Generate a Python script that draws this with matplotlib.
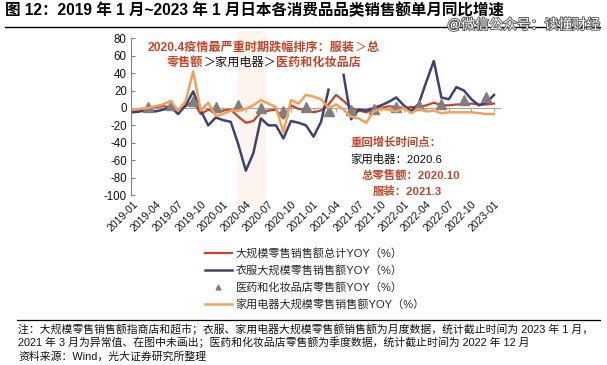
import numpy as np
import matplotlib
matplotlib.use('Agg')
import matplotlib.pyplot as plt
from matplotlib.lines import Line2D
import matplotlib.patheffects as pe

plt.rcParams['font.family'] = ['Liberation Sans', 'Noto Sans CJK SC']
plt.rcParams['axes.unicode_minus'] = False

# ---- data (monthly, 2019-01 .. 2023-01) ----
months = [f'{y}-{m:02d}' for y in range(2019, 2024) for m in range(1, 13)][:49]
total_yoy = [-3, -2, 0, 1, 2, 1, -2, 2, 8, -7, -2, -5,
             -3, -2, -10, -17, -15, -5, -3, -2, -12, 3, -1, -2,
             -5, -3, 4, 15, 8, 0, -3, -5, -2, 0, 2, 1,
             0, 1, 1, 3, 6, 3, 3, 4, 4, 5, 4, 4, 5]
apparel_yoy = [-5, -4, -2, -4, -2, 1, -7, 3, 19, -3, -20, -11,
               -14, -16, -42, -72, -52, -12, -20, -20, -35, -15, -17, -20,
               -33, -16, 21, np.nan, 38, -13, -2, -3, 0, 3, 7, 12,
               3, -4, 5, 30, 54, 12, 10, 24, 20, 10, 3, 6, 15]
appliance_yoy = [-2, -1, 0, 2, 4, 8, -3, 8, 42, -3, 6, -9,
                 -7, -3, -3, -1, 3, 9, 5, 1, -28, 9, 5, 15,
                 13, 10, 0, 4, -2, -10, -12, -17, -4, -1, -2, -4,
                 0, -6, -1, -4, -3, -6, -5, -5, -5, -5, -6, -7, -7]
# quarterly (2019Q1 .. 2022Q4), plotted at quarter-end months
drug_idx = list(range(2, 48, 3))
drug_yoy = [1, 3, 8, 1, 3, 0, -3, 1, -3, -2, -1, 1, 3, 4, 9, 12]

tick_idx = list(range(0, 49, 3))
tick_labels = [months[i] for i in tick_idx]

RED = '#C0462B'
NAVY = '#3F4170'
ORANGE = '#F2A05A'
GRAY = '#7F7F7F'

W, H = 607, 365


def fx(x):
    return x / W


def fy(y):
    return 1 - y / H


fig = plt.figure(figsize=(6.07, 3.65), dpi=100)
ax = fig.add_axes([fx(131), fy(195), fx(500) - fx(131), fy(38.3) - fy(195)])

x = np.arange(len(months))
ax.axvspan(13.8, 17.7, ymin=-0.064, ymax=1.047, color='#FDF4EE', lw=0,
           clip_on=False, zorder=0)
ax.plot(x, total_yoy, color=RED, lw=1.6, zorder=3)
ax.plot(x, apparel_yoy, color=NAVY, lw=1.8, zorder=3)
ax.plot(drug_idx, drug_yoy, ls='none', marker='^', ms=6.5, color=GRAY, zorder=4)
ax.plot(x, appliance_yoy, color=ORANGE, lw=1.8, zorder=5)

ax.set_xlim(-0.27, 48.8)
ax.set_ylim(-100, 80)
ax.set_yticks(range(-100, 81, 20))
ax.tick_params(axis='y', direction='in', length=3, width=0.8, color='#808080',
               labelsize=8.3, pad=3, labelcolor='#111111')
for sp in ('top', 'right'):
    ax.spines[sp].set_visible(False)
ax.spines['left'].set_color('#808080')
ax.spines['left'].set_linewidth(0.8)
ax.spines['bottom'].set_position(('data', 0))
ax.spines['bottom'].set_color('#A6A6A6')
ax.spines['bottom'].set_linewidth(0.8)
ax.set_xticks(tick_idx)
ax.tick_params(axis='x', direction='out', length=3, width=0.8, color='#A6A6A6',
               labelbottom=False)

sec = ax.secondary_xaxis('bottom')
sec.set_xticks(tick_idx)
sec.set_xticklabels(tick_labels, rotation=45, ha='right', rotation_mode='anchor',
                    fontsize=7.6, color='#111111')
sec.tick_params(length=0, pad=3)
sec.spines['bottom'].set_visible(False)


def rich(x0, y0, parts, size):
    prev = None
    for s, color, bold in parts:
        kw = dict(color=color, fontsize=size, fontweight='bold' if bold else 'normal',
                  ha='left', va='center')
        if prev is None:
            prev = fig.text(fx(x0), fy(y0), s, **kw)
        else:
            prev = ax.annotate(s, xy=(1, 0.5), xycoords=prev, annotation_clip=False, **kw)


rich(148, 47.5, [('2020.4疫情最严重时期跌幅排序：服装', RED, True),
                 ('＞', RED, False), ('总', RED, True)], 8.7)
rich(167, 63, [('零售额', RED, True), ('＞家用电器＞', '#111111', False),
               ('医药和化妆品店', RED, True)], 8.7)

rich(350, 142, [('重回增长时间点：', RED, True)], 8.2)
rich(350, 159, [('家用电器：2020.6', '#111111', False)], 8.2)
rich(362, 175, [('总零售额：2020.10', RED, True)], 8.2)
rich(373, 191, [('服装：2021.3', RED, True)], 8.2)

# title, rule and watermark
fig.text(fx(5), fy(11), '图 12：2019 年 1 月~2023 年 1 月日本各消费品品类销售额单月同比增速',
         fontsize=11.2, fontweight='bold', ha='left', va='center', color='black')
fig.add_artist(Line2D([fx(5), fx(600)], [fy(27), fy(27)], color='black', lw=1))
fig.text(fx(600), fy(25), '@微信公众号：读懂财经', fontsize=10, ha='right', va='center',
         color='white', path_effects=[pe.withStroke(linewidth=1.3, foreground='#555555')])

# legend
handles = [Line2D([], [], color=RED, lw=1.6),
           Line2D([], [], color=NAVY, lw=1.8),
           Line2D([], [], ls='none', marker='^', ms=3.5, color=GRAY),
           Line2D([], [], color=ORANGE, lw=1.8)]
labels = ['大规模零售销售额总计YOY（%）', '衣服大规模零售销售额YOY（%）',
          '医药和化妆品店零售额YOY（%）', '家用电器大规模零售销售额YOY（%）']
leg = fig.legend(handles, labels, loc='upper left', bbox_to_anchor=(fx(205), fy(248)),
                 frameon=False, fontsize=8, handlelength=2.4, handletextpad=0.35,
                 labelspacing=0.55, borderpad=0, borderaxespad=0)
for t in leg.get_texts():
    t.set_color('#262626')

# notes
fig.add_artist(Line2D([fx(17), fx(600)], [fy(320), fy(320)], color='black', lw=0.9))
notes = ['注：大规模零售销售额指商店和超市；衣服、家用电器大规模零售额销售额为月度数据，统计截止时间为 2023 年 1 月，',
         '2021 年 3 月为异常值、在图中未画出；医药和化妆品店零售额为季度数据，统计截止时间为 2022 年 12 月',
         '资料来源：Wind，光大证券研究所整理']
for i, n in enumerate(notes):
    fig.text(fx(18), fy(329 + 13.7 * i), n, fontsize=7.8, ha='left', va='center',
             color='#111111')

fig.savefig('out.png', dpi=100)
